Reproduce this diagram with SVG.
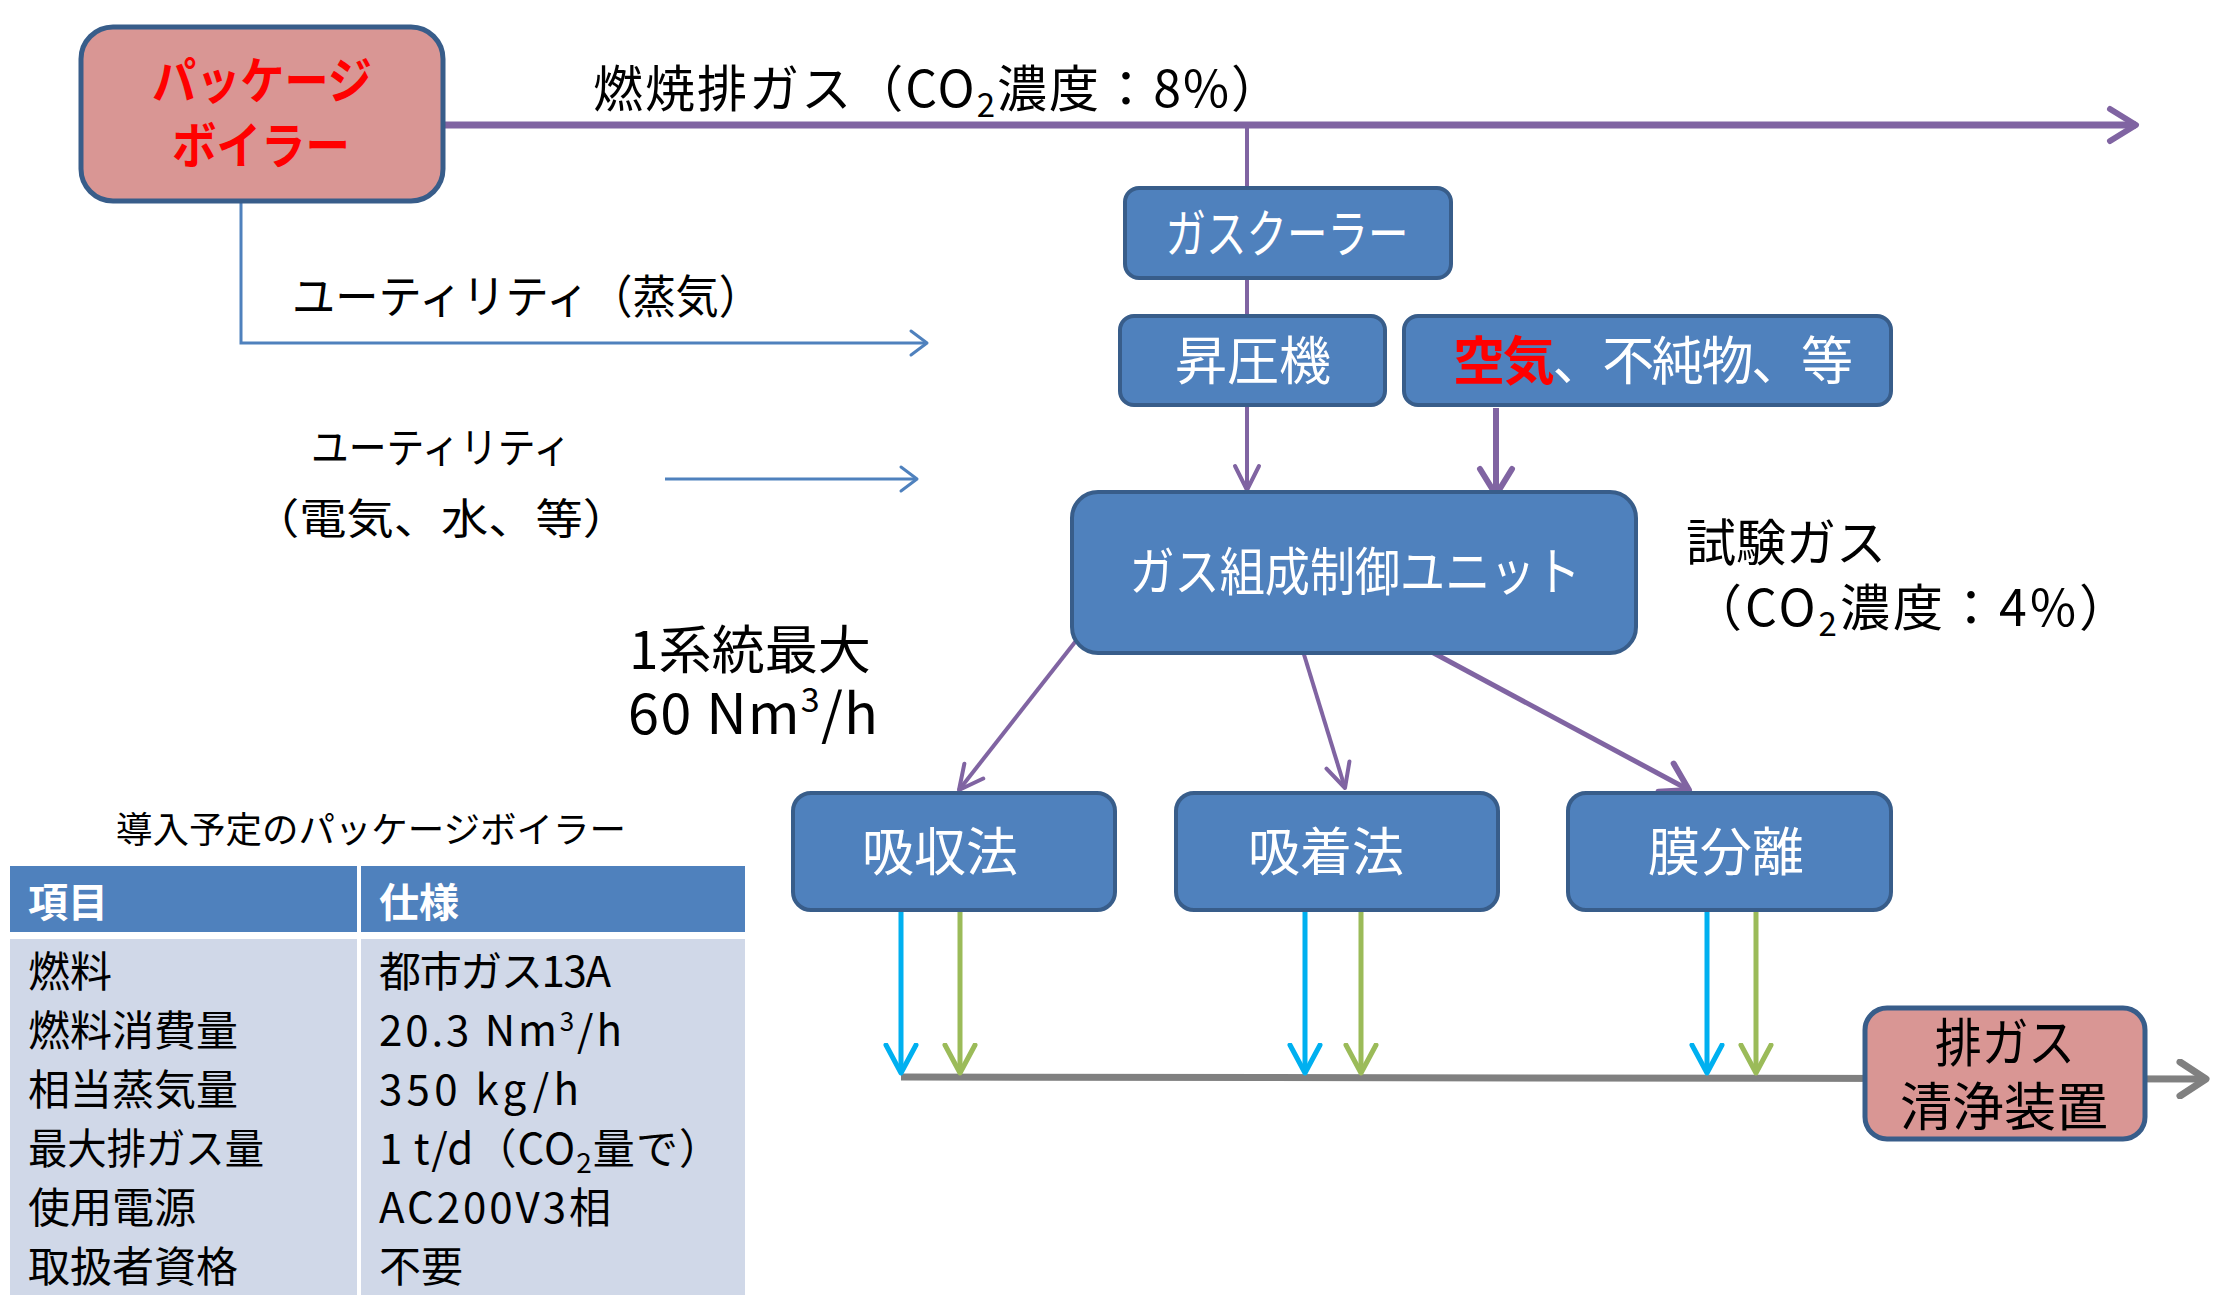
<svg xmlns="http://www.w3.org/2000/svg" width="2213" height="1295" viewBox="0 0 2213 1295">
<defs>
<style>
text{font-family:"Noto Sans CJK JP","Noto Sans",sans-serif;}
.bx{fill:#4F81BD;stroke:#385D8A;stroke-width:4;}
.pk{fill:#D99694;stroke:#385D8A;stroke-width:5;}
.wt{fill:#ffffff;font-size:52px;text-anchor:middle;}
.bk{fill:#000000;}
.pu{stroke:#8064A2;fill:none;}
.bl{stroke:#4F81BD;fill:none;stroke-width:3;}
.cy{stroke:#00B0F0;fill:none;stroke-width:5;}
.gr{stroke:#9BBB59;fill:none;stroke-width:5;}
.gy{stroke:#808080;fill:none;stroke-width:7;}
.tb{font-size:42px;fill:#000;}
</style>
<marker id="mPu" viewBox="-30 -20 34 40" refX="0" refY="0" markerWidth="34" markerHeight="40" markerUnits="userSpaceOnUse" orient="auto"><path d="M-26,-16 L0,0 L-26,16" fill="none" stroke="#8064A2" stroke-width="6" stroke-linecap="round" stroke-linejoin="round"/></marker>
<marker id="mPuS" viewBox="-30 -20 34 40" refX="0" refY="0" markerWidth="34" markerHeight="40" markerUnits="userSpaceOnUse" orient="auto"><path d="M-24,-12 L0,0 L-24,12" fill="none" stroke="#8064A2" stroke-width="4" stroke-linecap="round" stroke-linejoin="round"/></marker>
<marker id="mBl" viewBox="-30 -20 34 40" refX="0" refY="0" markerWidth="34" markerHeight="40" markerUnits="userSpaceOnUse" orient="auto"><path d="M-16,-12 L0,0 L-16,12" fill="none" stroke="#4F81BD" stroke-width="3" stroke-linecap="round" stroke-linejoin="round"/></marker>
<marker id="mCy" viewBox="-30 -20 34 40" refX="0" refY="0" markerWidth="34" markerHeight="40" markerUnits="userSpaceOnUse" orient="auto"><path d="M-28,-15 L0,0 L-28,15" fill="none" stroke="#00B0F0" stroke-width="5" stroke-linecap="round" stroke-linejoin="round"/></marker>
<marker id="mGr" viewBox="-30 -20 34 40" refX="0" refY="0" markerWidth="34" markerHeight="40" markerUnits="userSpaceOnUse" orient="auto"><path d="M-28,-15 L0,0 L-28,15" fill="none" stroke="#9BBB59" stroke-width="5" stroke-linecap="round" stroke-linejoin="round"/></marker>
<marker id="mGy" viewBox="-30 -20 34 40" refX="0" refY="0" markerWidth="34" markerHeight="40" markerUnits="userSpaceOnUse" orient="auto"><path d="M-26,-17 L0,0 L-26,17" fill="none" stroke="#808080" stroke-width="7" stroke-linecap="round" stroke-linejoin="round"/></marker>
</defs>
<rect width="2213" height="1295" fill="#ffffff"/>

<g id="connectors">
<line class="pu" x1="443" y1="125" x2="2136" y2="125" stroke-width="7" marker-end="url(#mPu)"/>
<line class="pu" x1="1247" y1="125" x2="1247" y2="190" stroke-width="4"/>
<line class="pu" x1="1247" y1="276" x2="1247" y2="318" stroke-width="4"/>
<line class="pu" x1="1247" y1="405" x2="1247" y2="490" stroke-width="4" marker-end="url(#mPuS)"/>
<line class="pu" x1="1496" y1="408" x2="1496" y2="495" stroke-width="6" marker-end="url(#mPu)"/>
<line class="pu" x1="1079" y1="637" x2="959" y2="790" stroke-width="4" marker-end="url(#mPuS)"/>
<line class="pu" x1="1302" y1="648" x2="1345" y2="788" stroke-width="4" marker-end="url(#mPuS)"/>
<line class="pu" x1="1415" y1="643" x2="1689" y2="790" stroke-width="5" marker-end="url(#mPu)"/>
<polyline class="bl" points="241,201 241,343 927,343" marker-end="url(#mBl)"/>
<line class="bl" x1="665" y1="479" x2="917" y2="479" marker-end="url(#mBl)"/>
<line class="gy" x1="901" y1="1077" x2="2206" y2="1079" marker-end="url(#mGy)"/>
<line class="cy" x1="901" y1="910" x2="901" y2="1073" marker-end="url(#mCy)"/>
<line class="gr" x1="960" y1="910" x2="960" y2="1073" marker-end="url(#mGr)"/>
<line class="cy" x1="1305" y1="910" x2="1305" y2="1073" marker-end="url(#mCy)"/>
<line class="gr" x1="1361" y1="910" x2="1361" y2="1073" marker-end="url(#mGr)"/>
<line class="cy" x1="1707" y1="906" x2="1707" y2="1073" marker-end="url(#mCy)"/>
<line class="gr" x1="1756" y1="910" x2="1756" y2="1073" marker-end="url(#mGr)"/>
</g>

<g id="boiler">
<rect class="pk" x="81" y="27" width="362" height="174" rx="32"/>
<text x="152" y="99" font-size="50" font-weight="bold" fill="#FF0000" textLength="220" lengthAdjust="spacingAndGlyphs">パッケージ</text>
<text x="172" y="164" font-size="50" font-weight="bold" fill="#FF0000" textLength="178" lengthAdjust="spacingAndGlyphs">ボイラー</text>
</g>

<g id="label-exhaust">
<text class="bk" x="593" y="107" font-size="50" textLength="688">燃焼排ガス（CO<tspan font-size="33" dy="10">2</tspan><tspan dy="-10">濃度：8%）</tspan></text>
</g>

<g id="gas-cooler">
<rect class="bx" x="1125" y="188" width="326" height="90" rx="14"/>
<text class="wt" x="1287" y="253" font-size="50" textLength="243" lengthAdjust="spacingAndGlyphs">ガスクーラー</text>
</g>

<g id="booster">
<rect class="bx" x="1120" y="316" width="265" height="89" rx="14"/>
<text class="wt" x="1253" y="380">昇圧機</text>
</g>

<g id="air">
<rect class="bx" x="1404" y="316" width="487" height="89" rx="14"/>
<text x="1453" y="380" font-size="52" textLength="400"><tspan fill="#FF0000" font-weight="bold">空気</tspan><tspan fill="#ffffff">、不純物、等</tspan></text>
</g>

<g id="gas-control">
<rect class="bx" x="1072" y="492" width="564" height="161" rx="26"/>
<text class="wt" x="1355" y="591" font-size="50" textLength="451" lengthAdjust="spacingAndGlyphs">ガス組成制御ユニット</text>
</g>

<g id="absorption">
<rect class="bx" x="793" y="793" width="322" height="117" rx="18"/>
<text class="wt" x="940" y="871">吸収法</text>
</g>
<g id="adsorption">
<rect class="bx" x="1176" y="793" width="322" height="117" rx="18"/>
<text class="wt" x="1326" y="871">吸着法</text>
</g>
<g id="membrane">
<rect class="bx" x="1568" y="793" width="323" height="117" rx="18"/>
<text class="wt" x="1726" y="871">膜分離</text>
</g>

<g id="exhaust-cleaner">
<rect class="pk" x="1865" y="1008" width="280" height="131" rx="22"/>
<text class="bk" x="2005" y="1062" font-size="52" text-anchor="middle" textLength="140" lengthAdjust="spacingAndGlyphs">排ガス</text>
<text class="bk" x="2004" y="1126" font-size="52" text-anchor="middle">清浄装置</text>
</g>

<g id="labels">
<text class="bk" x="292" y="313" font-size="46" textLength="470" lengthAdjust="spacingAndGlyphs">ユーティリティ（蒸気）</text>
<text class="bk" x="311" y="463" font-size="42" textLength="260" lengthAdjust="spacingAndGlyphs">ユーティリティ</text>
<text class="bk" x="252" y="534" font-size="42" textLength="378" lengthAdjust="spacingAndGlyphs">（電気、水、等）</text>
<text class="bk" x="629" y="669" font-size="52" textLength="242" lengthAdjust="spacingAndGlyphs">1系統最大</text>
<text class="bk" x="628" y="734" font-size="56" textLength="250">60 Nm<tspan font-size="34" dy="-22">3</tspan><tspan dy="22">/h</tspan></text>
<text class="bk" x="1686" y="561" font-size="50">試験ガス</text>
<text class="bk" x="1692" y="626" font-size="50" textLength="437">（CO<tspan font-size="33" dy="10">2</tspan><tspan dy="-10">濃度：4%）</tspan></text>
</g>

<g id="spec-table">
<text class="bk" x="116" y="843" font-size="36" textLength="510" lengthAdjust="spacingAndGlyphs">導入予定のパッケージボイラー</text>
<rect x="10" y="866" width="347" height="66" fill="#4F81BD"/>
<rect x="361" y="866" width="384" height="66" fill="#4F81BD"/>
<rect x="10" y="939" width="347" height="356" fill="#D0D8E8"/>
<rect x="361" y="939" width="384" height="356" fill="#D0D8E8"/>
<text x="28" y="917" font-size="40" font-weight="bold" fill="#ffffff">項目</text>
<text x="379" y="917" font-size="40" font-weight="bold" fill="#ffffff">仕様</text>
<text class="tb" x="28" y="987">燃料</text>
<text class="tb" x="379" y="987" textLength="232">都市ガス13A</text>
<text class="tb" x="28" y="1046">燃料消費量</text>
<text class="tb" x="379" y="1046" textLength="243">20.3 Nm<tspan font-size="26" dy="-15">3</tspan><tspan dy="15">/h</tspan></text>
<text class="tb" x="28" y="1105">相当蒸気量</text>
<text class="tb" x="379" y="1105" textLength="200">350 kg/h</text>
<text class="tb" x="28" y="1164" textLength="236" lengthAdjust="spacingAndGlyphs">最大排ガス量</text>
<text class="tb" x="379" y="1164" textLength="342">1 t/d（CO<tspan font-size="28" dy="9">2</tspan><tspan dy="-9">量で）</tspan></text>
<text class="tb" x="28" y="1223">使用電源</text>
<text class="tb" x="379" y="1223" textLength="232">AC200V3相</text>
<text class="tb" x="28" y="1282">取扱者資格</text>
<text class="tb" x="379" y="1282">不要</text>
</g>
</svg>
